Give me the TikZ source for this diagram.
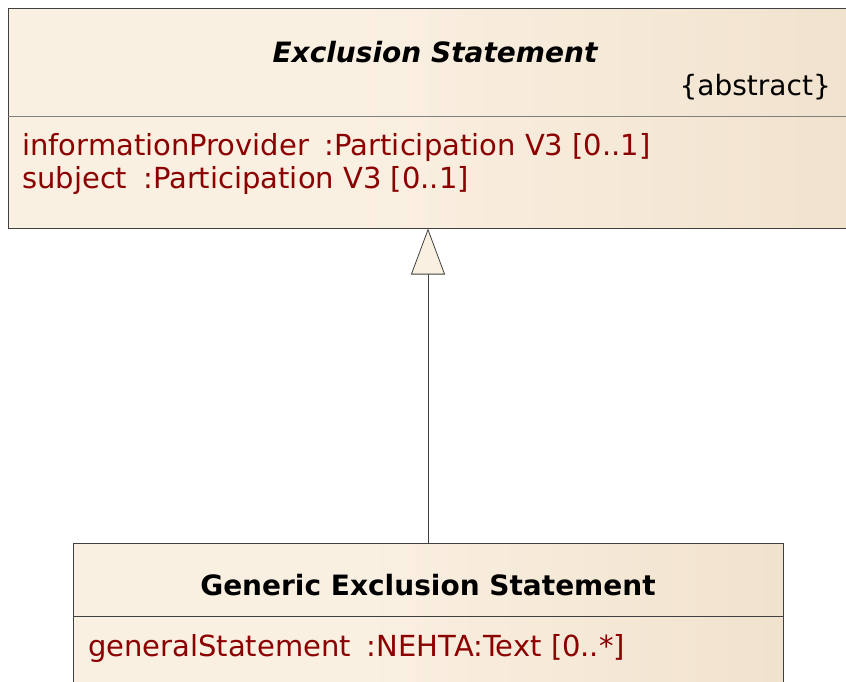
\documentclass[tikz,border=0pt]{standalone}
\usepackage{fontspec}
\setmainfont{DejaVu Sans}
\usetikzlibrary{arrows.meta,positioning}

\definecolor{umlcream}{HTML}{FAF0E2}
\definecolor{umltan}{HTML}{E8D6BB}
\definecolor{umlline}{HTML}{404040}
\definecolor{attrred}{HTML}{8B0000}

% cream on the left half, fading to tan at the right edge
\pgfdeclarehorizontalshading{classfill}{100bp}{color(0bp)=(umlcream); color(45bp)=(umlcream); color(100bp)=(umltan)}

\tikzset{
  classbox/.style={draw=umlline, line width=1pt, shading=classfill, inner sep=0pt},
  classname/.style={anchor=base, font=\fontsize{28}{32}\selectfont\bfseries},
  attr/.style={anchor=base west, text=attrred, inner sep=0pt,
    font=\fontsize{29}{33}\selectfont},
  generalize/.style={draw=umlline, line width=0.8pt,
    -{Triangle[length=46pt,width=34pt,fill=umlcream]}}
}
\newcommand{\gap}{\hspace{0.55em}}

\begin{document}
\begin{tikzpicture}[x=1pt,y=-1pt]
  \useasboundingbox (0,0) rectangle (846,681);
  \clip (0,0) rectangle (846,681);

  % abstract parent class
  \node[classbox, minimum width=854pt, minimum height=220pt] (excl) at (435,118) {};
  \draw[gray, line width=1pt] (8,116) -- (862,116);
  \node[classname, font=\fontsize{28}{32}\selectfont\bfseries\itshape] (exclname) at (435,62) {Exclusion Statement};
  \node[anchor=base east, inner sep=0pt, font=\fontsize{28}{32}\selectfont] (exclabs) at (831,95) {\{abstract\}};
  \node[attr] (provider) at (22,155) {informationProvider\gap:Participation V3 [0..1]};
  \node[attr] (subject) at (22,188) {subject\gap:Participation V3 [0..1]};

  % child class
  \node[classbox, minimum width=710pt, minimum height=157pt] (gen) at (428,621.5) {};
  \draw[umlline, line width=1pt] (73,616) -- (783,616);
  \node[classname] (genname) at (428,595) {Generic Exclusion Statement};
  \node[attr] (general) at (88,656) {generalStatement\gap:NEHTA:Text [0..*]};

  \draw[generalize] (gen.north) -- (gen.north |- excl.south);
\end{tikzpicture}
\end{document}
